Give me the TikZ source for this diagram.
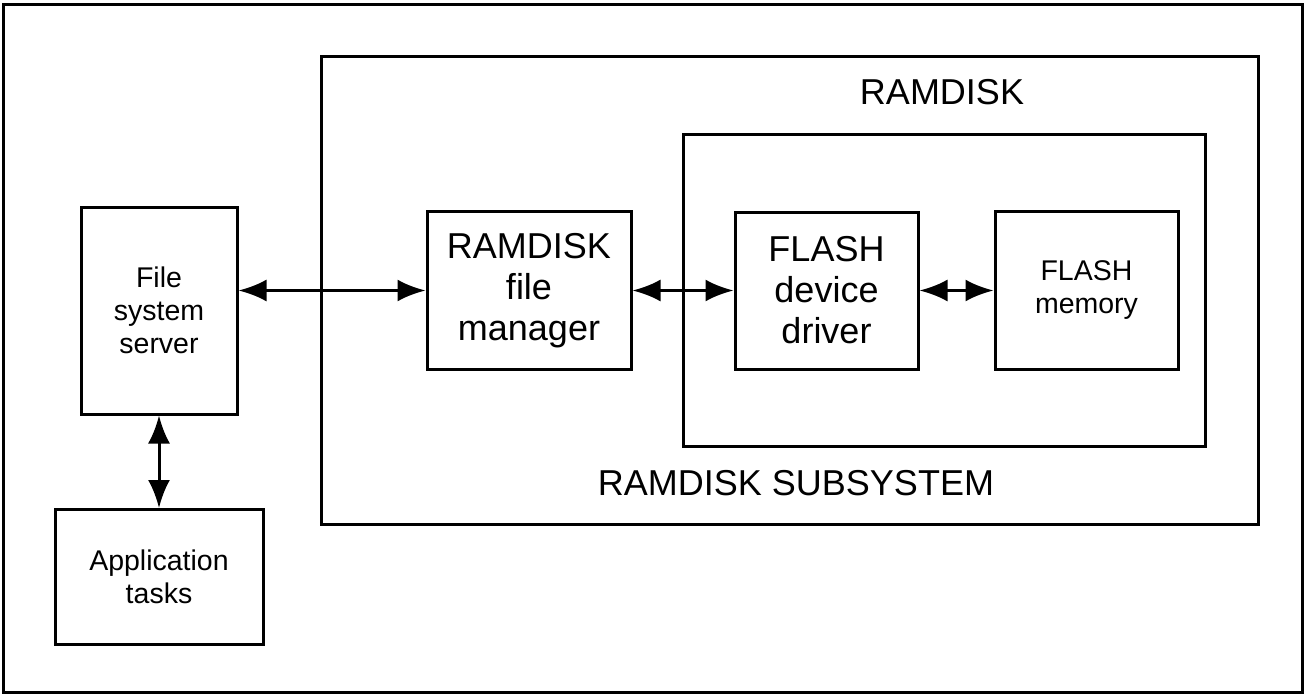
\documentclass[tikz,border=0pt]{standalone}
\usepackage{fontspec}
\setmainfont{Liberation Sans}
\usetikzlibrary{arrows.meta,calc}
\begin{document}
\begin{tikzpicture}[x=1pt,y=-1pt,
  frame/.style={draw,line width=3pt},
  blk/.style={draw,line width=3pt,rectangle,inner sep=0pt,align=center},
  big/.style={font=\fontsize{36}{41}\selectfont},
  small/.style={font=\fontsize{28.5}{33}\selectfont},
  link/.style={line width=3pt,{Latex[length=28pt,width=22pt]}-{Latex[length=28pt,width=22pt]}}]
\useasboundingbox (0,0) rectangle (1307,696);
\draw[frame] (3,4) rectangle (1302,692);
% containers
\node[blk,minimum width=937pt,minimum height=468pt] (sub) at (789.5,290) {};
\node[blk,minimum width=522pt,minimum height=312pt] (ram) at (944,290) {};
\node[big] (subl) at (796,483) {RAMDISK SUBSYSTEM};
\node[big] (raml) at (942,92) {RAMDISK};
% blocks
\node[blk,small,minimum width=156pt,minimum height=207pt] (fss) at (159,310.5) {File\\system\\server};
\node[blk,small,minimum width=208pt,minimum height=135pt] (app) at (159,577) {Application\\tasks};
\node[blk,big,minimum width=204pt,minimum height=158pt] (rfm) at (529,290.5) {RAMDISK\\file\\manager};
\node[blk,big,minimum width=183pt,minimum height=157pt] (fdd) at (826.5,290.5) {FLASH\\device\\driver};
\node[blk,small,minimum width=183pt,minimum height=158pt] (fm) at (1086.5,290.5) {FLASH\\memory};
% connectors
\draw[link] (rfm.west -| fss.east) -- (rfm.west);
\draw[link] (rfm.east) -- (fdd.west);
\draw[link] (fdd.east) -- (fm.west);
\draw[link] (fss.south) -- (app.north);
\end{tikzpicture}
\end{document}
